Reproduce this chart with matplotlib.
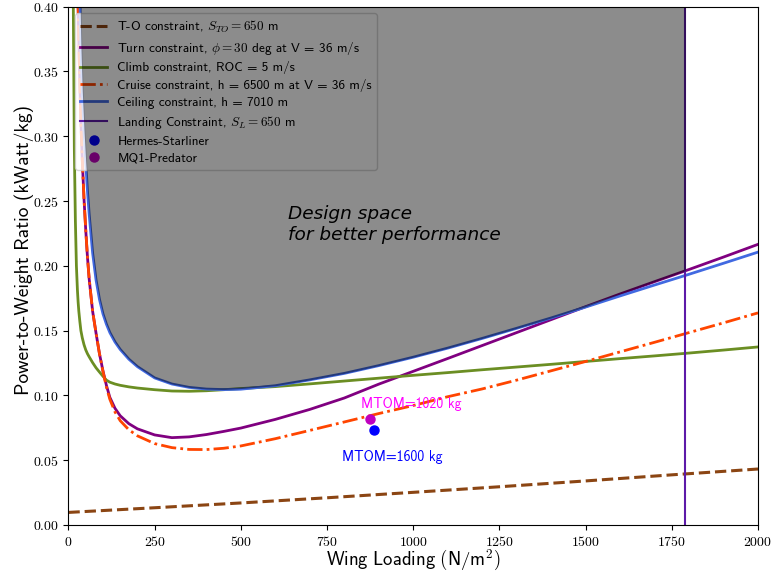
import matplotlib
matplotlib.use('Agg')
import matplotlib.pyplot as plt
import numpy as np
from matplotlib.patches import Rectangle
from matplotlib.ticker import MultipleLocator, FuncFormatter

# ---------------- data ----------------
wing_loading = [10, 14, 17, 20, 23, 26, 28, 30, 33, 36, 40, 45, 50, 55, 60, 70, 80, 90,
                100, 110, 120, 135, 150, 175, 200, 250, 300, 350, 400, 450, 500, 600,
                700, 800, 900, 1000, 1100, 1200, 1300, 1400, 1500, 1600, 1700, 1800,
                1900, 2000]

turn_pw = [1.12, 0.80, 0.66, 0.56, 0.49, 0.43, 0.40, 0.373, 0.340, 0.311, 0.282, 0.252,
           0.228, 0.207, 0.190, 0.165, 0.148, 0.132, 0.119, 0.1078, 0.0985, 0.0900,
           0.0843, 0.0782, 0.0742, 0.0695, 0.0674, 0.0680, 0.0698, 0.0722, 0.0748,
           0.0815, 0.0892, 0.0980, 0.1087, 0.1186, 0.1285, 0.1385, 0.1485, 0.1585,
           0.1685, 0.1783, 0.1878, 0.1972, 0.2068, 0.2166]

climb_pw = [0.65, 0.40, 0.290, 0.235, 0.200, 0.181, 0.172, 0.165, 0.157, 0.150, 0.1445,
            0.1392, 0.1352, 0.1322, 0.1298, 0.1253, 0.1213, 0.1180, 0.1148, 0.1118,
            0.1102, 0.1088, 0.1078, 0.1066, 0.1057, 0.1044, 0.1034, 0.1032, 0.1036,
            0.1044, 0.1053, 0.1068, 0.1089, 0.1111, 0.1133, 0.1155, 0.1176, 0.1198,
            0.1219, 0.1240, 0.1262, 0.1284, 0.1305, 0.1327, 0.1350, 0.1374]

cruise_pw = [1.12, 0.80, 0.66, 0.56, 0.49, 0.43, 0.40, 0.373, 0.340, 0.311, 0.282, 0.252,
             0.228, 0.207, 0.190, 0.165, 0.148, 0.132, 0.1185, 0.1065, 0.0970, 0.0872,
             0.0805, 0.0735, 0.0688, 0.0628, 0.0597, 0.0583, 0.0582, 0.0592, 0.0610,
             0.0666, 0.0730, 0.0795, 0.0860, 0.0922, 0.0990, 0.1050, 0.1118, 0.1190,
             0.1262, 0.1336, 0.1410, 0.1485, 0.1560, 0.1637]

ceiling_pw = [2.0, 1.45, 1.15, 0.95, 0.78, 0.64, 0.56, 0.48, 0.41, 0.37, 0.335, 0.305,
              0.280, 0.258, 0.240, 0.210, 0.189, 0.174, 0.163, 0.155, 0.1485, 0.1412,
              0.1355, 0.1280, 0.1222, 0.1135, 0.1088, 0.1062, 0.1049, 0.1045, 0.1048,
              0.1075, 0.1120, 0.1170, 0.1230, 0.1295, 0.1365, 0.1440, 0.1518, 0.1598,
              0.1682, 0.1768, 0.1852, 0.1935, 0.2020, 0.2106]

takeoff_wl = [0, 250, 500, 750, 1000, 1250, 1500, 1750, 2000]
takeoff_pw = [0.0097, 0.0133, 0.0170, 0.0210, 0.0252, 0.0295, 0.0340, 0.0387, 0.0432]

landing_wl = 1789

hermes_wl, hermes_pw = 885, 0.0732
mq1_wl, mq1_pw = 874, 0.0820

labels = [r'T-O constraint, $S_{TO} = 650$ m',
          r'Turn constraint, $\phi = 30$ deg at V = 36 m/s',
          'Climb constraint, ROC = 5 m/s',
          'Cruise constraint, h = 6500 m at V = 36 m/s',
          'Ceiling constraint, h = 7010 m',
          r'Landing Constraint, $S_L = 650$ m',
          'Hermes-Starliner',
          'MQ1-Predator']

# ---------------- style ----------------
plt.rcParams['font.family'] = ['cmss10', 'DejaVu Sans']
plt.rcParams['mathtext.fontset'] = 'cm'
plt.rcParams['axes.unicode_minus'] = False
plt.rcParams['axes.formatter.use_mathtext'] = True

fig = plt.figure(figsize=(7.72, 5.73), dpi=100)
ax = fig.add_axes([0.0887, 0.0838, 0.8932, 0.9045])

wl = np.array(wing_loading, dtype=float)
turn = np.array(turn_pw)
climb = np.array(climb_pw)
cruise = np.array(cruise_pw)
ceiling = np.array(ceiling_pw)

ax.plot(takeoff_wl, takeoff_pw, '--', color='#8B4513', lw=2.2, label=labels[0])
ax.plot(wl, turn, color='#800080', lw=2, label=labels[1])
ax.plot(wl, climb, color='#6B8E23', lw=2, label=labels[2])
ax.plot(wl, cruise, color='#FF4500', lw=2, ls=(0, (5.5, 1.5, 1, 1.5)), label=labels[3])
ax.plot(wl, ceiling, color='#4169E1', lw=2, label=labels[4])
ax.axvline(landing_wl, color='#5D1AA8', lw=1.5, label=labels[5])
ax.plot([hermes_wl], [hermes_pw], 'o', color='blue', ms=6.5, label=labels[6])
ax.plot([mq1_wl], [mq1_pw], 'o', color='m', ms=6.5, label=labels[7])

ax.annotate('MTOM=1020 kg', (mq1_wl, mq1_pw), xytext=(29.5, 10.6),
            textcoords='offset points', color='magenta', fontsize=10,
            ha='center', va='center')
ax.annotate('MTOM=1600 kg', (hermes_wl, hermes_pw), xytext=(13.7, -19.2),
            textcoords='offset points', color='blue', fontsize=10,
            ha='center', va='center')

ax.set_xlim(0, 2000)
ax.set_ylim(0, 0.4)

ax.legend(loc='upper left', fontsize=9.5, labelspacing=0.36)

env = np.max(np.vstack([turn, climb, cruise, ceiling]), axis=0)
coll = ax.fill_between(wl, env, 0.4, where=env <= 0.4, interpolate=True,
                       color='k', alpha=0.45, lw=0, zorder=6)
clip = Rectangle((0, 0), landing_wl, 0.4, transform=ax.transData)
coll.set_clip_path(clip)

ax.text(636, 0.232, 'Design space\nfor better performance', fontsize=13.3,
        style='italic', family='DejaVu Sans', ha='left', va='center', zorder=7)

ax.xaxis.set_major_locator(MultipleLocator(250))
ax.yaxis.set_major_locator(MultipleLocator(0.05))
ax.xaxis.set_major_formatter(FuncFormatter(lambda v, p: r'$%d$' % round(v)))
ax.yaxis.set_major_formatter(FuncFormatter(lambda v, p: r'$%.2f$' % v))
ax.tick_params(labelsize=10)

ax.set_xlabel(r'$\mathsf{Wing\ Loading\ (N/m}^{2}\mathsf{)}$', fontsize=13.5, va='center')
ax.set_ylabel('Power-to-Weight Ratio (kWatt/kg)', fontsize=14, va='center')
ax.xaxis.set_label_coords(0.5, -0.069)
ax.yaxis.set_label_coords(-0.0645, 0.53)

fig.savefig('out.png', dpi=100)
